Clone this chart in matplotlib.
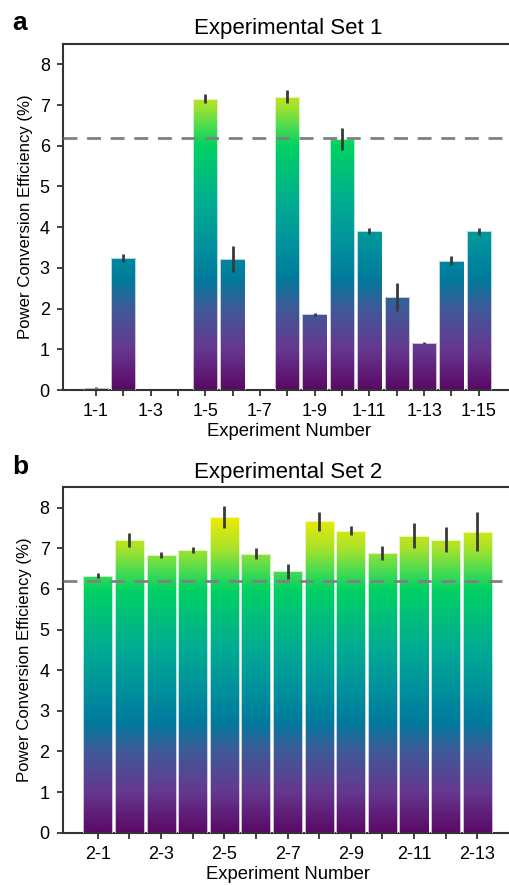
import numpy as np
import matplotlib
matplotlib.use('Agg')
import matplotlib.pyplot as plt
from matplotlib.colors import LinearSegmentedColormap, Normalize

plt.rcParams['font.family'] = ['Liberation Sans', 'DejaVu Sans']

# data
set1Labels = ['1-%d' % i for i in range(1, 16)]
set1Pce = [0.06, 3.24, 0.01, 0.0, 7.15, 3.22, 0.0, 7.21, 1.86, 6.17, 3.91, 2.28, 1.16, 3.17, 3.90]
set1Err = [0.02, 0.09, 0.0, 0.0, 0.11, 0.31, 0.0, 0.16, 0.03, 0.27, 0.07, 0.35, 0.03, 0.11, 0.08]

set2Labels = ['2-%d' % i for i in range(1, 14)]
set2Pce = [6.32, 7.21, 6.83, 6.96, 7.77, 6.87, 6.43, 7.66, 7.43, 6.88, 7.31, 7.21, 7.41]
set2Err = [0.06, 0.17, 0.07, 0.07, 0.28, 0.14, 0.19, 0.24, 0.11, 0.18, 0.30, 0.31, 0.48]

refLine = 6.2

# gradient colours keyed by PCE value
stopVals = [0, 1, 2, 2.7, 3.5, 4.5, 5.5, 6.0, 6.5, 7.0, 7.8, 8.5]
stopCols = ['#5a0a66', '#663890', '#3f5a98', '#007a9c', '#00909c', '#00aa94',
            '#00c474', '#00d262', '#50dc50', '#a6e22c', '#f2ea00', '#fff000']
vmax = 8.5
cmapPce = LinearSegmentedColormap.from_list('pce', [(v / vmax, c) for v, c in zip(stopVals, stopCols)])
norm = Normalize(0, vmax)


def gradBars(ax, vals, errs, width):
	xs = np.arange(len(vals))
	bars = ax.bar(xs, vals, width=width, color='none', edgecolor='white', linewidth=0.5, zorder=3)
	for b, v in zip(bars, vals):
		if v <= 0:
			continue
		x0 = b.get_x()
		# gradient image clipped to the bar outline
		grad = np.linspace(0, v + 0.1, 256).reshape(-1, 1)
		im = ax.imshow(grad, origin='lower', extent=(x0 - 0.05, x0 + width + 0.05, 0, v + 0.1),
					   aspect='auto', cmap=cmapPce, norm=norm, zorder=2, interpolation='bilinear')
		im.set_clip_path(b)
	ax.errorbar(xs, vals, yerr=errs, fmt='none', ecolor='#3a3a3a', elinewidth=2, capsize=0, zorder=4)


def styleAx(ax, labels, title, letter):
	n = len(labels)
	ax.axhline(refLine, color='#808080', linestyle=(0, (5, 3.5)), linewidth=2, zorder=5)
	ax.set_ylim(0, 8.5)
	ax.set_yticks(range(0, 9))
	ax.set_xticks(np.arange(n))
	ax.set_xticklabels([l if i % 2 == 0 else '' for i, l in enumerate(labels)])
	ax.tick_params(axis='both', labelsize=13, width=1.3, length=4.5, color='#333333', pad=5)
	for s in ax.spines.values():
		s.set_linewidth(1.5)
		s.set_color('#333333')
	ax.set_ylabel('Power Conversion Efficiency (%)', fontsize=12.1, labelpad=5)
	ax.set_xlabel('Experiment Number', fontsize=13.3, labelpad=2)
	ax.set_title(title, fontsize=16, pad=7)
	ax.text(-0.112, 1.025, letter, transform=ax.transAxes, fontsize=19, fontweight='bold',
			va='bottom', ha='left')


fig = plt.figure(figsize=(5.1, 8.85), dpi=100)

ax1 = fig.add_axes([0.1235, 0.5593, 0.885, 0.391])
gradBars(ax1, set1Pce, set1Err, 0.89)
ax1.set_xlim(-1.2, 15.3)
styleAx(ax1, set1Labels, 'Experimental Set 1', 'a')

ax2 = fig.add_axes([0.123, 0.0591, 0.884, 0.3903])
gradBars(ax2, set2Pce, set2Err, 0.92)
ax2.set_xlim(-1.11, 13.15)
styleAx(ax2, set2Labels, 'Experimental Set 2', 'b')

fig.savefig('out.png', dpi=100)
